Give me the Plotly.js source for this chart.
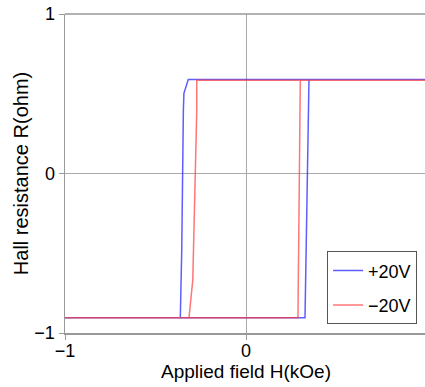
<!DOCTYPE html>
<html>
<head>
<meta charset="utf-8">
<script src="https://cdn.plot.ly/plotly-3.0.1.min.js"></script>
<style>
html,body{margin:0;padding:0;overflow:hidden;background:#fff;}
#chart{width:430px;height:387px;}
</style>
</head>
<body>
<div id="chart"></div>
<script>
// +20V hysteresis loop
var xPlus = [-1, 0.326, 0.348, 1, -0.319, -0.343, -0.346, -0.355, -0.363, -1];
var yPlus = [-0.905, -0.905, 0.589, 0.589, 0.589, 0.503, 0.398, -0.48, -0.905, -0.905];
// -20V hysteresis loop
var xMinus = [-1, 0.287, 0.300, 1, -0.272, -0.272, -0.287, -0.294, -0.315, -1];
var yMinus = [-0.905, -0.905, 0.585, 0.585, 0.585, 0.398, -0.48, -0.668, -0.905, -0.905];
var seriesNames = ['+20V', '\u221220V'];
var tickVals = [-1, 0, 1];
var tickText = ['\u22121', '0', '1'];

var font = 'Liberation Sans, Arial, sans-serif';
var traces = [
  {x: xPlus, y: yPlus, mode: 'lines', name: seriesNames[0], legendgroup: 'a',
   line: {color: 'rgba(40,40,255,0.75)', width: 1.5}},
  {x: xMinus, y: yMinus, mode: 'lines', name: seriesNames[1], legendgroup: 'b',
   line: {color: 'rgba(255,60,60,0.7)', width: 1.5}}
];
var axisCommon = {
  range: [-1, 1], tickvals: tickVals, ticktext: tickText,
  ticks: 'outside', ticklen: 5, tickcolor: '#999', tickwidth: 1,
  showline: true, linecolor: '#999', linewidth: 1.5,
  showgrid: false, zeroline: true, zerolinecolor: '#aaa', zerolinewidth: 1,
  tickfont: {family: font, size: 18, color: '#000'}
};
var layout = {
  width: 430, height: 387,
  margin: {l: 65, r: 3, t: 14, b: 54},
  paper_bgcolor: '#fff', plot_bgcolor: '#fff',
  showlegend: true,
  legend: {x: 0.724, y: 0.027, xanchor: 'left', yanchor: 'bottom',
    traceorder: 'grouped', tracegroupgap: 8,
    bordercolor: '#555', borderwidth: 1, bgcolor: '#fff',
    font: {family: font, size: 18, color: '#000'}},
  xaxis: Object.assign({}, axisCommon, {
    ticklabelstandoff: -4,
    title: {text: 'Applied field H(kOe)', font: {family: font, size: 19, color: '#000'}, standoff: 4},
    mirror: false
  }),
  yaxis: Object.assign({}, axisCommon, {
    title: {text: 'Hall resistance R(ohm)', font: {family: font, size: 20, color: '#000'}, standoff: 0},
    mirror: false
  }),
  shapes: [{type: 'line', xref: 'paper', yref: 'paper', x0: 0, x1: 1, y0: 1, y1: 1,
    line: {color: '#999', width: 1.5}}]
};
Plotly.newPlot('chart', traces, layout, {displayModeBar: false, staticPlot: true});
</script>
</body>
</html>
